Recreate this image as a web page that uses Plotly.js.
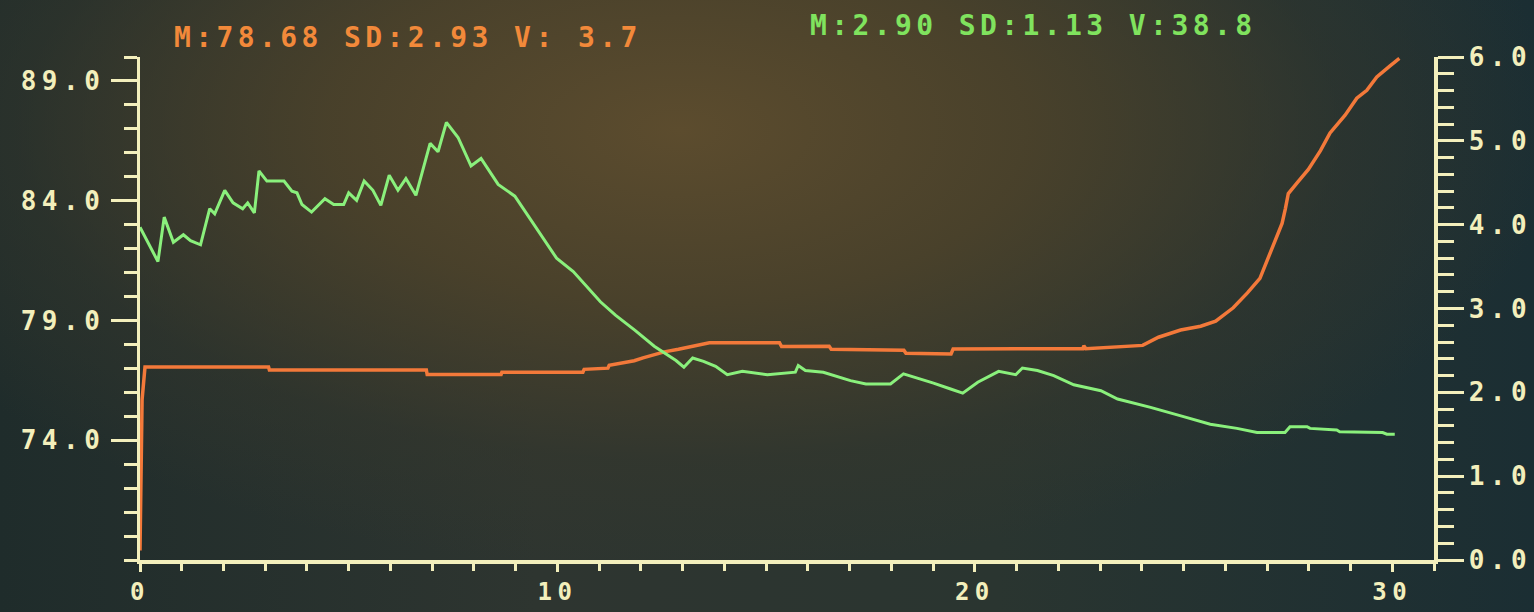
<!DOCTYPE html>
<html>
<head>
<meta charset="utf-8">
<script src="https://cdn.plot.ly/plotly-3.0.1.min.js"></script>
<style>
  html, body { margin: 0; padding: 0; }
  body {
    width: 1534px; height: 612px; overflow: hidden;
    background:
      radial-gradient(ellipse 880px 440px at 680px 130px, rgba(92,76,46,1) 0%, rgba(78,67,42,0.85) 40%, rgba(55,56,44,0.45) 75%, rgba(0,0,0,0) 100%),
      linear-gradient(90deg, #1f2c2b 0%, #2e3530 35%, #2a3530 65%, #1b2e33 100%);
  }
  #chart { width: 1534px; height: 612px; }
  .xtick text, .ytick text, .y2tick text { letter-spacing: 5.5px; }
  text.annotation-text { letter-spacing: 4.4px; }
</style>
</head>
<body>
<div id="chart"></div>
<script>
// ---- data ----
const greenX = [0, 0.43, 0.58, 0.80, 1.04, 1.21, 1.45, 1.67, 1.79, 2.03, 2.23, 2.46, 2.58, 2.74, 2.85, 3.04, 3.45, 3.64, 3.76, 3.88, 4.11, 4.43, 4.64, 4.88, 5.00, 5.19, 5.37, 5.58, 5.77, 5.97, 6.18, 6.37, 6.61, 6.95, 7.14, 7.34, 7.62, 7.93, 8.17, 8.58, 8.98, 9.29, 9.80, 9.98, 10.38, 11.03, 11.39, 11.86, 12.32, 12.56, 12.84, 13.03, 13.24, 13.50, 13.79, 14.07, 14.43, 15.03, 15.70, 15.77, 15.94, 16.37, 16.78, 17.02, 17.39, 17.98, 18.29, 18.63, 19.01, 19.42, 19.71, 20.07, 20.57, 20.98, 21.14, 21.50, 21.89, 22.37, 23.02, 23.42, 24.21, 25.00, 25.64, 26.28, 26.76, 27.43, 27.55, 27.96, 28.03, 28.67, 28.74, 29.77, 29.87, 30.06];
const greenY = [3.97, 3.56, 4.09, 3.79, 3.88, 3.81, 3.76, 4.19, 4.13, 4.41, 4.26, 4.19, 4.26, 4.14, 4.64, 4.52, 4.52, 4.40, 4.38, 4.24, 4.15, 4.31, 4.24, 4.24, 4.38, 4.29, 4.52, 4.41, 4.23, 4.59, 4.41, 4.55, 4.35, 4.97, 4.87, 5.22, 5.04, 4.70, 4.79, 4.48, 4.34, 4.11, 3.74, 3.60, 3.44, 3.08, 2.92, 2.74, 2.55, 2.47, 2.38, 2.30, 2.41, 2.37, 2.31, 2.21, 2.25, 2.21, 2.24, 2.32, 2.26, 2.24, 2.18, 2.14, 2.10, 2.10, 2.22, 2.17, 2.11, 2.04, 1.99, 2.12, 2.25, 2.21, 2.29, 2.26, 2.20, 2.09, 2.02, 1.92, 1.82, 1.71, 1.62, 1.57, 1.52, 1.52, 1.59, 1.59, 1.57, 1.55, 1.53, 1.52, 1.50, 1.50];

const orangeX = [0, 0.02, 0.05, 0.12, 3.08, 3.10, 6.86, 6.88, 8.65, 8.67, 10.61, 10.64, 11.21, 11.24, 11.53, 11.84, 12.05, 12.32, 12.56, 12.90, 13.26, 13.64, 15.32, 15.37, 16.51, 16.56, 18.30, 18.35, 19.43, 19.48, 22.59, 22.61, 22.66, 23.02, 24.02, 24.40, 24.93, 25.41, 25.77, 26.19, 26.53, 26.83, 27.15, 27.36, 27.44, 27.51, 27.73, 27.99, 28.28, 28.51, 28.87, 29.15, 29.39, 29.63, 29.94, 30.17];
const orangeY = [69.4, 72.0, 75.7, 77.06, 77.06, 76.93, 76.93, 76.74, 76.74, 76.84, 76.84, 76.96, 77.01, 77.13, 77.21, 77.32, 77.44, 77.57, 77.69, 77.80, 77.92, 78.07, 78.07, 77.91, 77.92, 77.80, 77.76, 77.63, 77.60, 77.81, 77.82, 77.95, 77.82, 77.85, 77.96, 78.30, 78.60, 78.76, 78.97, 79.53, 80.15, 80.76, 82.09, 83.05, 83.67, 84.30, 84.77, 85.31, 86.09, 86.83, 87.57, 88.28, 88.61, 89.17, 89.62, 89.94];

const xTickVals = [0, 10, 20, 30];
const xTickText = ['0', '10', '20', '30'];
const leftTickVals = [74, 79, 84, 89];
const leftTickText = ['74.0', '79.0', '84.0', '89.0'];
const rightTickVals = [0, 1, 2, 3, 4, 5, 6];
const rightTickText = ['0.0', '1.0', '2.0', '3.0', '4.0', '5.0', '6.0'];

const orangeStats = 'M:78.68 SD:2.93 V: 3.7';
const greenStats = 'M:2.90 SD:1.13 V:38.8';

// ---- styling ----
const CREAM = '#f3efbc';
const ORANGE_LINE = '#f3793a';
const GREEN_LINE = '#8af07c';
const ORANGE_TEXT = '#f2893a';
const GREEN_TEXT = '#80e35e';
const FONT = 'DejaVu Sans Mono, Liberation Mono, monospace';

const traces = [
  { x: orangeX, y: orangeY, type: 'scatter', mode: 'lines', yaxis: 'y',
    line: { color: ORANGE_LINE, width: 3.5 }, hoverinfo: 'skip' },
  { x: greenX, y: greenY, type: 'scatter', mode: 'lines', yaxis: 'y2',
    line: { color: GREEN_LINE, width: 3 }, hoverinfo: 'skip' }
];

const tickFont = { family: FONT, size: 26, color: CREAM, weight: 'bold' };

const layout = {
  width: 1534, height: 612,
  margin: { l: 140, r: 100, t: 57, b: 52 },
  paper_bgcolor: 'rgba(0,0,0,0)',
  plot_bgcolor: 'rgba(0,0,0,0)',
  showlegend: false,
  xaxis: {
    range: [0, 31], showgrid: false, zeroline: false,
    showline: true, linecolor: CREAM, linewidth: 3.5,
    ticks: 'outside', tickvals: xTickVals, ticktext: xTickText,
    ticklen: 8, tickwidth: 3, tickcolor: CREAM,
    tickfont: { family: FONT, size: 24, color: CREAM, weight: 'bold' },
    minor: { dtick: 1, tick0: 0, ticks: 'outside', ticklen: 7, tickwidth: 3, tickcolor: CREAM, showgrid: false }
  },
  yaxis: {
    range: [69, 90], showgrid: false, zeroline: false,
    showline: true, linecolor: CREAM, linewidth: 3.5,
    ticks: 'outside', tickvals: leftTickVals, ticktext: leftTickText,
    ticklen: 26, tickwidth: 3, tickcolor: CREAM,
    tickfont: tickFont,
    minor: { dtick: 1, tick0: 69, ticks: 'outside', ticklen: 13, tickwidth: 3, tickcolor: CREAM, showgrid: false }
  },
  yaxis2: {
    overlaying: 'y', side: 'right',
    range: [0, 6], showgrid: false, zeroline: false,
    showline: true, linecolor: CREAM, linewidth: 3.5,
    ticks: 'outside', tickvals: rightTickVals, ticktext: rightTickText,
    ticklen: 26, tickwidth: 3, tickcolor: CREAM,
    tickfont: tickFont,
    minor: { dtick: 0.2, tick0: 0, ticks: 'outside', ticklen: 16, tickwidth: 3, tickcolor: CREAM, showgrid: false }
  },
  annotations: [
    { text: orangeStats, xref: 'paper', yref: 'paper', x: 0.0247, y: 1.0378,
      xanchor: 'left', yanchor: 'middle', showarrow: false,
      font: { family: FONT, size: 28, color: ORANGE_TEXT, weight: 'bold' } },
    { text: greenStats, xref: 'paper', yref: 'paper', x: 0.5162, y: 1.0636,
      xanchor: 'left', yanchor: 'middle', showarrow: false,
      font: { family: FONT, size: 28, color: GREEN_TEXT, weight: 'bold' } }
  ]
};

Plotly.newPlot('chart', traces, layout, { displayModeBar: false, staticPlot: true });
</script>
</body>
</html>
